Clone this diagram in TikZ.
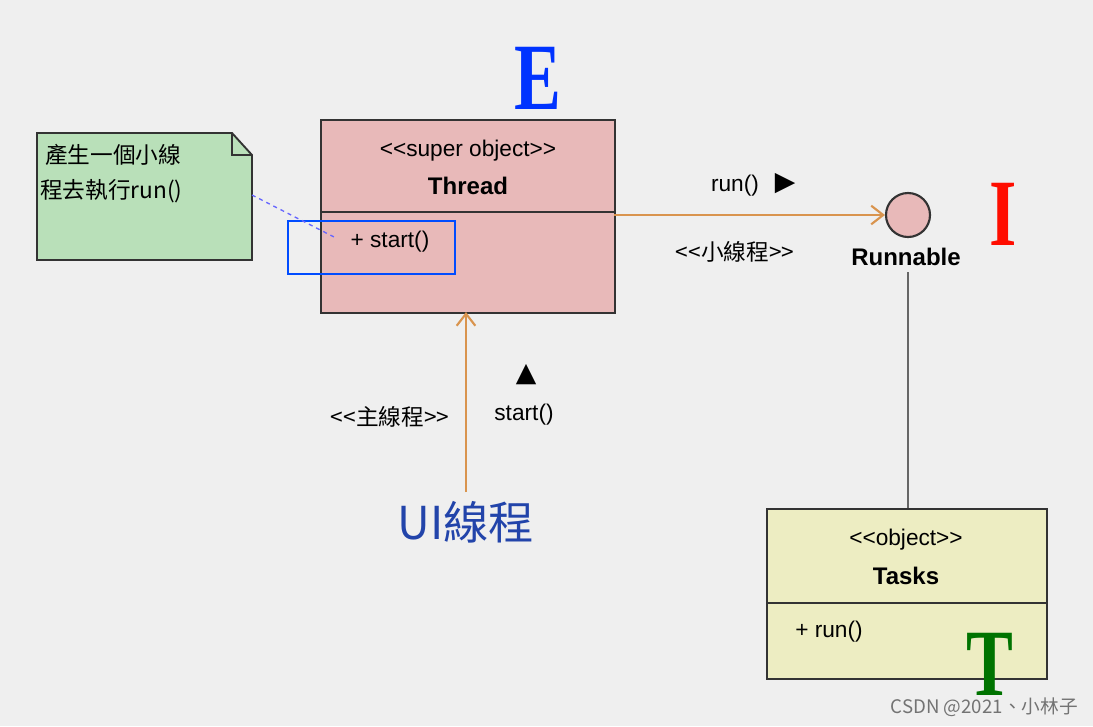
\documentclass[tikz,border=0pt]{standalone}
\usepackage{fontspec}
\setmainfont{Liberation Sans}
\newfontfamily\cjk{Noto Sans CJK TC}
\newfontfamily\djv{DejaVu Sans}
\usetikzlibrary{arrows.meta}
\definecolor{bg}{HTML}{EFEFEF}
\definecolor{pinkf}{HTML}{E8B9B9}
\definecolor{greenf}{HTML}{B9E0B9}
\definecolor{yellf}{HTML}{EDEDC2}
\definecolor{orng}{HTML}{D9944E}
\definecolor{bluet}{HTML}{2244AA}
\tikzset{
 box/.style={draw=black!80,line width=1.8pt},
 txt/.style={font=\fontsize{17}{20}\selectfont,inner sep=0},
 ctxt/.style={font=\cjk\fontsize{17}{20}\selectfont,inner sep=0},
 bold/.style={font=\bfseries\fontsize{18}{20}\selectfont,inner sep=0},
 oarr/.style={draw=orng,line width=1.6pt,-{Straight Barb[length=9pt,width=14pt]}},
 big/.style={font=\fontspec{Liberation Serif}\bfseries\fontsize{62}{62}\selectfont,inner sep=0,yscale=1.15,xscale=0.85}
}
\begin{document}
\begin{tikzpicture}[x=0.75pt,y=-0.75pt]
\fill[bg] (0,0) rectangle (1093,726);
\useasboundingbox (0,0) rectangle (1093,726);
% Thread
\node[box,fill=pinkf,minimum width=294*0.75pt,minimum height=193*0.75pt,anchor=north west,inner sep=0] (thread) at (320,119) {};
\draw[black!80,line width=1.2pt] (320,212) coordinate (td1) -- (614,212) coordinate (td2);
\node[txt] (st) at (468,151) {<{}<super object>{}>};
\node[bold] (tn) at (468,186) {Thread};
\node[txt] (start) at (390,242) {+ start()};
\node[draw=blue!70!cyan,line width=1.3pt,minimum width=167*0.75pt,minimum height=53*0.75pt,anchor=north west,inner sep=0] (sel) at (287,220) {};
% note
\draw[black!80,line width=1.4pt,fill=greenf] (37,133) -- (232,133) -- (252,155) -- (252,260) -- (37,260) -- cycle;
\draw[black!80,line width=1.2pt] (232,133) -- (232,155) -- (252,155);
\node[ctxt,anchor=west] (n1) at (45,155) {產生一個小線};
\node[ctxt,anchor=west] (n2) at (40,191) {程去執行run()};
\coordinate (nc) at (252,195);
\coordinate (sc) at (336,238);
\draw[blue!60,dashed,line width=1pt] (nc) -- (sc);
% Runnable
\node[circle,draw=black!80,line width=1.6pt,fill=pinkf,minimum size=44*0.75pt,inner sep=0] (run) at (908,215) {};
\node[bold] (rn) at (906,257) {Runnable};
\coordinate (ta) at (614,215);
\draw[oarr] (ta) -- (run.west);
\node[txt] (r1) at (735,186) {run()};
\node[font=\djv\fontsize{20}{20}\selectfont,inner sep=0] (tri1) at (785,184) {▶};
\node[ctxt] (sm) at (735,252) {<<小線程>>};
% Tasks
\node[box,fill=yellf,minimum width=280*0.75pt,minimum height=170*0.75pt,anchor=north west,inner sep=0] (tasks) at (766,508) {};
\draw[black!80,line width=1.2pt] (766,603) -- (1046,603);
\node[txt] (ob) at (906,540) {<{}<object>{}>};
\node[bold] (tk) at (906,576) {Tasks};
\node[txt] (rr) at (829,632) {+ run()};
\draw[black!60,line width=1.2pt] (908,272) -- (tasks.north -| 908,0);
% E I T
\node[big,text=blue!80!cyan] (E) at (538,78) {E};
\node[big,text=red!90!orange] (I) at (1003,214) {I};
\node[big,text=green!45!black] (T) at (990,664) {T};
% UI
\node[font=\cjk\fontsize{34}{34}\selectfont,text=bluet,inner sep=0] (ui) at (466,522) {UI線程};
\coordinate (ub) at (466,492);
\draw[oarr] (ub) -- (466,312);
\node[font=\djv\fontsize{20}{20}\selectfont,inner sep=0] (tri2) at (526,375) {▲};
\node[txt] (s2) at (524,415) {start()};
\node[ctxt] (mn) at (390,417) {<<主線程>>};
\node[font=\cjk\fontsize{14}{14}\selectfont,text=black!55,inner sep=0,anchor=east] (wm) at (1078,707) {CSDN @2021、小林子};
\end{tikzpicture}
\end{document}
